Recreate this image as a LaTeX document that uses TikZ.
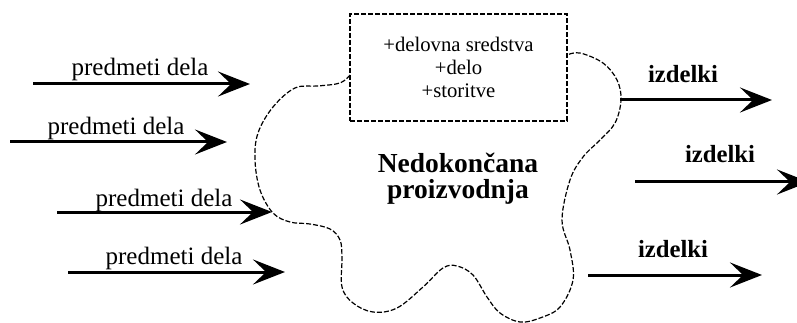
\documentclass[tikz,border=0pt]{standalone}
\usepackage{fontspec}
\setmainfont{Liberation Serif}
\usetikzlibrary{arrows.meta}

\begin{document}
\begin{tikzpicture}[x=1pt,y=-1pt,
  flow/.style={line width=3pt,-{Stealth[length=32pt,width=25pt,inset=13pt]}},
  inlabel/.style={anchor=base,inner sep=0pt,font=\fontsize{25}{30}\selectfont},
  outlabel/.style={anchor=base,inner sep=0pt,font=\fontsize{24.7}{30}\selectfont\bfseries},
  outline/.style={line width=1.2pt,dash pattern=on 5pt off 2pt}]
\useasboundingbox (0,0) rectangle (797,323);

% resources box
\node[outline,draw,minimum width=217pt,minimum height=107pt,inner sep=0pt,
      align=center,font=\fontsize{20.7}{23}\selectfont] (res) at (458.5,67.5)
  {+delovna sredstva\\+delo\\+storitve};

% boundary of work in progress, running from the box's left side to its right side
\draw[outline] plot[smooth,tension=0.6] coordinates {
  (350,75) (340,83) (318,86) (295,88) (273,107) (258,133) (255,160) (260,190)
  (273,213) (290,222) (310,224) (330,229) (340,240) (342,257) (342,287)
  (353,303) (373,312) (397,308) (423,287) (443,268) (457,266) (473,275)
  (487,297) (500,313) (520,322) (540,318) (560,307) (573,280) (570,250)
  (562,220) (570,180) (583,157) (600,140) (615,123) (621,100) (617,80)
  (603,63) (580,53) (567,55)};

\node[align=center,inner sep=0pt,font=\fontsize{27.5}{26}\selectfont\bfseries] (wip)
  at (458,179) {Nedokončana\\proizvodnja};

% incoming material flows
\coordinate (i1s) at (33,84);  \coordinate (i1e) at (250,84);
\coordinate (i2s) at (10,142); \coordinate (i2e) at (227,142);
\coordinate (i3s) at (57,212); \coordinate (i3e) at (272,212);
\coordinate (i4s) at (68,272); \coordinate (i4e) at (285,272);
\draw[flow] (i1s) -- (i1e);
\draw[flow] (i2s) -- (i2e);
\draw[flow] (i3s) -- (i3e);
\draw[flow] (i4s) -- (i4e);
\node[inlabel] (l1) at (140,76) {predmeti dela};
\node[inlabel] (l2) at (116,135) {predmeti dela};
\node[inlabel] (l3) at (164,206) {predmeti dela};
\node[inlabel] (l4) at (174,264) {predmeti dela};

% outgoing products
\coordinate (o1s) at (620,100); \coordinate (o1e) at (772,100);
\coordinate (o2s) at (635,182); \coordinate (o2e) at (809,182);
\coordinate (o3s) at (588,275); \coordinate (o3e) at (762,275);
\draw[flow] (o1s) -- (o1e);
\draw[flow] (o2s) -- (o2e);
\draw[flow] (o3s) -- (o3e);
\node[outlabel] (r1) at (683,83) {izdelki};
\node[outlabel] (r2) at (720,163) {izdelki};
\node[outlabel] (r3) at (673,257) {izdelki};
\end{tikzpicture}
\end{document}
